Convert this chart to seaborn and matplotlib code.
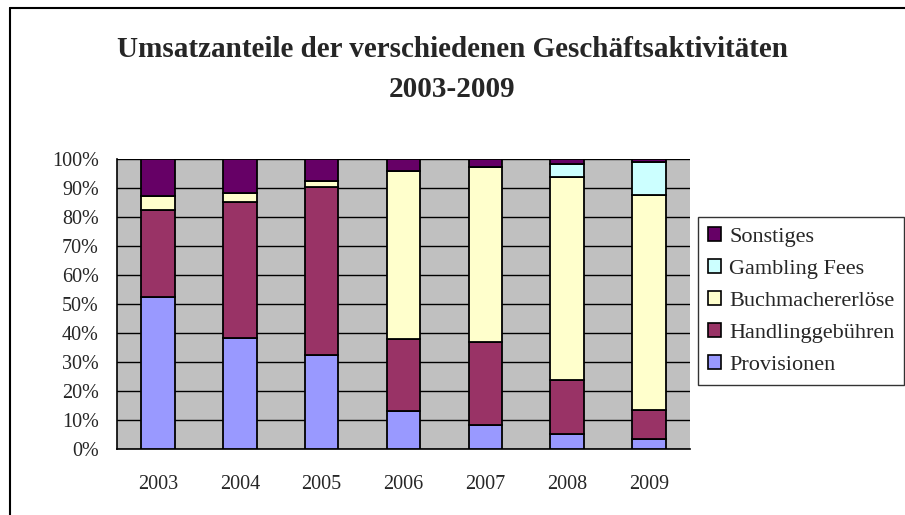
import matplotlib
matplotlib.use("Agg")
import matplotlib.pyplot as plt
import seaborn as sns
import pandas as pd
import numpy as np
from matplotlib.lines import Line2D
from matplotlib.patches import Patch

years = ["2003", "2004", "2005", "2006", "2007", "2008", "2009"]
provisionen = [52.5, 38.4, 32.3, 13.0, 8.3, 5.3, 3.3]
handlinggebuehren = [30.0, 46.7, 57.9, 24.9, 28.5, 18.5, 10.3]
buchmachererloese = [4.7, 3.1, 2.1, 57.9, 60.5, 69.9, 74.1]
gambling_fees = [0.0, 0.0, 0.0, 0.0, 0.0, 4.6, 11.2]
sonstiges = [12.8, 11.8, 7.7, 4.2, 2.7, 1.7, 1.1]

series = ["Provisionen", "Handlinggebühren", "Buchmachererlöse", "Gambling Fees", "Sonstiges"]
values = [provisionen, handlinggebuehren, buchmachererloese, gambling_fees, sonstiges]
colors = ["#9999FF", "#993366", "#FFFFCC", "#CCFFFF", "#660066"]

serif = ["Liberation Serif", "DejaVu Serif"]

sns.set_style("white")
plt.rcParams["font.family"] = serif

W, H = 905, 515
fig = plt.figure(figsize=(W / 100, H / 100), dpi=100)
ax = fig.add_axes([117 / W, 1 - 449 / H, (690 - 117) / W, (449 - 159) / H])
ax.set_facecolor("#C0C0C0")

# stacked bars, one seaborn call per series
bottom = np.zeros(len(years))
for name, vals, col in zip(series, values, colors):
    df = pd.DataFrame({"year": years, "share": vals})
    sns.barplot(data=df, x="year", y="share", color=col, width=0.41,
                bottom=bottom, edgecolor="black", linewidth=1.3,
                saturation=1, ax=ax, zorder=3)
    bottom = bottom + np.array(vals)

ax.set_xlim(-0.5, len(years) - 0.5)
ax.set_ylim(0, 100)
ax.set_yticks(np.arange(0, 101, 10))
ax.set_yticklabels([f"{v}%" for v in range(0, 101, 10)], fontsize=14.5)
ax.set_xticks(range(len(years)))
ax.set_xticklabels(years, fontsize=14.5)
ax.set_xticks(np.arange(-0.5, len(years), 1), minor=True)
ax.tick_params(axis="x", which="major", length=0, pad=19)
ax.tick_params(axis="x", which="minor", length=5.5, width=1, color="black", direction="out")
ax.tick_params(axis="y", length=6, width=1, color="black", direction="out", pad=7)
ax.set_xlabel("")
ax.set_ylabel("")
ax.yaxis.grid(True, color="black", linewidth=1, zorder=1)
ax.set_axisbelow(True)
for s in ["top", "right"]:
    ax.spines[s].set_visible(False)
for s in ["left", "bottom"]:
    ax.spines[s].set_color("black")
    ax.spines[s].set_linewidth(1.2)

fig.text(0.5, 1 - 57 / H, "Umsatzanteile der verschiedenen Geschäftsaktivitäten",
         ha="center", va="baseline", fontsize=21, fontweight="bold")
fig.text(0.5, 1 - 97 / H, "2003-2009",
         ha="center", va="baseline", fontsize=21, fontweight="bold")

handles = [Patch(facecolor=c, edgecolor="black", linewidth=1.2) for c in colors][::-1]
leg = fig.legend(handles, series[::-1], loc="center left",
                 bbox_to_anchor=(698 / W, 1 - 301 / H), fontsize=16,
                 frameon=True, fancybox=False, handlelength=0.6, handleheight=0.6,
                 handletextpad=0.35, labelspacing=0.55, borderpad=0.45,
                 borderaxespad=0)
leg.get_frame().set_edgecolor("black")
leg.get_frame().set_linewidth(1)

fig.add_artist(Line2D([10 / W, 10 / W], [0, 1 - 8 / H], color="black", linewidth=1.5))
fig.add_artist(Line2D([10 / W, 1], [1 - 8 / H, 1 - 8 / H], color="black", linewidth=1.5))

fig.savefig("out.png", dpi=100)
